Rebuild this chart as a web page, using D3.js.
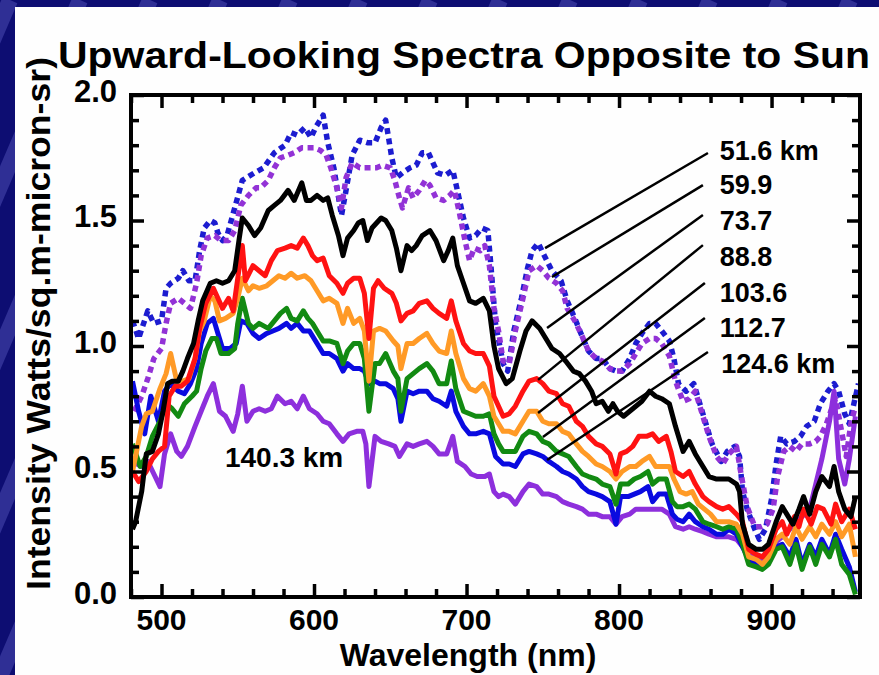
<!DOCTYPE html>
<html>
<head>
<meta charset="utf-8">
<script src="https://cdn.jsdelivr.net/npm/d3@7"></script>
<style>
  html, body { margin: 0; padding: 0; background: #0d0d72; }
  svg { display: block; }
  text { font-family: "Liberation Sans", Arial, Helvetica, sans-serif; font-weight: bold; fill: #000; }
</style>
</head>
<body>
<div id="chart"></div>
<script>
// Canvas size
const width = 879, height = 675;

// Axis ticks
const xMajor = [500, 600, 700, 800, 900];
const yMajor = [0, 0.5, 1.0, 1.5, 2.0];

// Spectra, [wavelength nm, intensity]
const s516 = [[481,1.10],[485,1.03],[491,1.14],[495,1.09],[500,1.10],[503,1.23],[506,1.25],[511,1.27],[514,1.30],[518,1.26],[522,1.26],[525,1.38],[528,1.47],[532,1.50],[535,1.49],[537,1.45],[540,1.42],[543,1.44],[548,1.55],[553,1.66],[561,1.69],[567,1.71],[574,1.77],[581,1.80],[585,1.85],[589,1.84],[594,1.87],[598,1.83],[601,1.87],[606,1.92],[609,1.81],[613,1.71],[618,1.52],[621,1.62],[625,1.76],[630,1.82],[635,1.81],[640,1.81],[644,1.87],[647,1.90],[651,1.75],[654,1.67],[658,1.69],[663,1.71],[667,1.72],[671,1.77],[675,1.77],[678,1.73],[681,1.69],[686,1.68],[691,1.70],[694,1.62],[698,1.51],[702,1.43],[706,1.44],[710,1.47],[714,1.46],[716,1.32],[719,1.09],[724,0.93],[727,0.90],[731,1.06],[736,1.19],[740,1.31],[743,1.38],[747,1.41],[751,1.36],[756,1.30],[762,1.26],[766,1.18],[771,1.11],[775,1.05],[780,0.98],[785,0.95],[789,0.95],[794,0.91],[798,0.90],[802,0.90],[807,0.95],[811,1.01],[815,1.05],[820,1.09],[824,1.09],[828,1.06],[833,1.02],[836,0.95],[839,0.85],[844,0.82],[849,0.85],[853,0.77],[857,0.69],[861,0.61],[867,0.54],[871,0.58],[876,0.60],[879,0.56],[881,0.42],[884,0.35],[889,0.27],[892,0.23],[896,0.27],[900,0.39],[903,0.53],[906,0.64],[910,0.61],[915,0.62],[919,0.64],[923,0.68],[928,0.70],[932,0.77],[937,0.82],[941,0.85],[944,0.82],[948,0.73],[951,0.69],[954,0.77],[957,0.85]];

const s599 = [[482,0.74],[487,0.80],[491,0.87],[495,0.95],[500,0.99],[503,1.09],[506,1.17],[511,1.19],[515,1.17],[519,1.15],[523,1.25],[526,1.36],[530,1.43],[535,1.44],[539,1.42],[544,1.42],[548,1.46],[552,1.56],[557,1.60],[562,1.63],[565,1.63],[570,1.66],[574,1.71],[578,1.75],[583,1.76],[587,1.77],[592,1.79],[596,1.79],[600,1.79],[604,1.78],[608,1.76],[611,1.71],[615,1.63],[618,1.55],[621,1.67],[625,1.73],[630,1.71],[635,1.71],[641,1.71],[645,1.72],[650,1.71],[653,1.66],[656,1.59],[658,1.55],[662,1.63],[665,1.59],[669,1.62],[673,1.66],[676,1.64],[680,1.59],[685,1.58],[689,1.60],[692,1.62],[695,1.54],[699,1.42],[702,1.34],[705,1.39],[709,1.38],[712,1.40],[715,1.32],[718,1.15],[721,1.06],[724,0.94],[728,0.93],[732,1.06],[737,1.19],[741,1.30],[746,1.32],[750,1.30],[754,1.27],[759,1.25],[763,1.22],[766,1.15],[771,1.10],[775,1.05],[780,0.98],[785,0.95],[789,0.94],[794,0.91],[798,0.90],[802,0.90],[807,0.93],[811,0.97],[815,1.01],[820,1.03],[824,1.03],[828,1.01],[833,0.96],[837,0.86],[842,0.78],[846,0.79],[850,0.82],[855,0.72],[859,0.64],[864,0.56],[868,0.53],[872,0.57],[877,0.60],[880,0.49],[884,0.36],[889,0.28],[893,0.28],[897,0.29],[901,0.35],[904,0.48],[908,0.58],[912,0.60],[916,0.58],[920,0.61],[925,0.61],[929,0.62],[932,0.64],[936,0.69],[940,0.76],[942,0.79],[945,0.69],[949,0.56],[952,0.69],[955,0.76]];

const s737 = [[481,0.27],[483,0.30],[487,0.42],[490,0.57],[494,0.58],[498,0.65],[501,0.74],[504,0.85],[507,0.86],[511,0.86],[514,0.90],[517,0.95],[521,1.01],[524,1.10],[527,1.18],[532,1.25],[536,1.26],[540,1.25],[544,1.26],[548,1.30],[551,1.43],[553,1.51],[557,1.48],[561,1.44],[565,1.47],[570,1.54],[574,1.56],[578,1.58],[583,1.62],[587,1.58],[592,1.65],[595,1.58],[598,1.58],[602,1.60],[606,1.58],[609,1.59],[612,1.52],[616,1.44],[619,1.36],[622,1.43],[626,1.46],[629,1.49],[632,1.50],[635,1.42],[638,1.47],[641,1.49],[644,1.51],[647,1.50],[651,1.46],[654,1.39],[657,1.30],[661,1.40],[664,1.38],[667,1.40],[671,1.44],[676,1.46],[680,1.42],[685,1.34],[688,1.38],[691,1.43],[694,1.32],[698,1.25],[702,1.18],[706,1.17],[711,1.19],[715,1.14],[718,1.00],[721,0.91],[726,0.85],[730,0.87],[735,0.98],[739,1.06],[743,1.10],[748,1.07],[752,1.03],[756,0.99],[761,0.97],[765,0.94],[770,0.90],[774,0.89],[778,0.86],[782,0.82],[785,0.77],[789,0.78],[793,0.74],[796,0.77],[799,0.74],[803,0.72],[807,0.74],[811,0.76],[815,0.78],[820,0.82],[824,0.80],[828,0.79],[833,0.77],[837,0.68],[842,0.58],[846,0.62],[850,0.57],[855,0.52],[859,0.48],[864,0.47],[868,0.47],[872,0.47],[877,0.45],[879,0.42],[881,0.29],[885,0.21],[890,0.19],[894,0.19],[898,0.21],[903,0.30],[907,0.36],[910,0.33],[914,0.29],[918,0.35],[921,0.40],[925,0.33],[929,0.42],[933,0.48],[938,0.44],[941,0.52],[944,0.42],[948,0.35],[952,0.32],[955,0.40]];

const s888 = [[481,0.50],[485,0.46],[490,0.50],[494,0.55],[498,0.58],[502,0.60],[505,0.80],[509,0.84],[513,0.84],[517,0.86],[522,0.95],[525,1.07],[529,1.17],[534,1.23],[537,1.19],[540,1.15],[544,1.19],[547,1.14],[550,1.27],[553,1.40],[555,1.26],[560,1.32],[564,1.30],[568,1.28],[572,1.34],[576,1.38],[581,1.39],[585,1.40],[589,1.39],[593,1.43],[596,1.40],[599,1.36],[602,1.34],[606,1.35],[610,1.28],[615,1.25],[619,1.21],[622,1.25],[626,1.27],[630,1.27],[633,1.21],[636,1.03],[639,1.23],[642,1.26],[646,1.23],[651,1.21],[654,1.17],[657,1.10],[661,1.13],[665,1.14],[669,1.17],[674,1.18],[678,1.15],[682,1.13],[687,1.11],[690,1.18],[693,1.10],[698,1.01],[702,0.98],[706,0.97],[711,0.97],[715,0.92],[718,0.80],[721,0.76],[724,0.72],[728,0.73],[732,0.76],[737,0.82],[741,0.86],[746,0.87],[750,0.85],[754,0.82],[759,0.81],[763,0.77],[767,0.76],[772,0.70],[776,0.68],[780,0.64],[785,0.61],[789,0.60],[794,0.57],[798,0.49],[801,0.57],[805,0.58],[809,0.60],[813,0.64],[818,0.64],[822,0.65],[826,0.62],[831,0.64],[834,0.58],[837,0.50],[842,0.48],[846,0.50],[850,0.45],[855,0.40],[859,0.38],[864,0.36],[868,0.35],[872,0.36],[877,0.33],[881,0.30],[885,0.19],[890,0.17],[894,0.16],[898,0.19],[903,0.27],[907,0.30],[910,0.25],[915,0.32],[918,0.28],[921,0.35],[926,0.29],[930,0.36],[934,0.35],[939,0.29],[942,0.37],[946,0.30],[951,0.35],[955,0.27]];

const s1036 = [[481,0.50],[487,0.68],[490,0.73],[494,0.74],[499,0.83],[503,0.89],[506,0.97],[510,0.86],[514,0.86],[518,0.87],[522,0.95],[525,1.06],[528,1.10],[532,1.20],[535,1.18],[538,1.10],[542,1.11],[547,1.13],[550,1.19],[553,1.27],[557,1.22],[560,1.24],[564,1.23],[569,1.24],[573,1.26],[577,1.28],[581,1.27],[585,1.29],[589,1.27],[594,1.28],[598,1.26],[601,1.23],[606,1.18],[610,1.19],[615,1.17],[619,1.09],[622,1.15],[626,1.09],[630,1.11],[633,1.06],[636,0.86],[639,1.06],[643,1.07],[647,1.06],[652,1.02],[655,1.00],[657,0.91],[661,1.01],[665,1.01],[669,1.03],[674,1.05],[678,1.01],[682,0.98],[687,0.97],[690,1.06],[693,0.97],[698,0.87],[702,0.83],[706,0.82],[711,0.85],[715,0.80],[718,0.72],[721,0.69],[724,0.66],[728,0.66],[732,0.65],[737,0.70],[741,0.74],[746,0.74],[750,0.70],[754,0.69],[759,0.69],[763,0.66],[767,0.65],[772,0.61],[776,0.58],[780,0.56],[785,0.53],[789,0.52],[794,0.50],[798,0.47],[802,0.50],[807,0.52],[811,0.52],[815,0.54],[820,0.56],[824,0.52],[828,0.52],[833,0.52],[836,0.47],[840,0.42],[844,0.41],[848,0.42],[852,0.37],[856,0.35],[860,0.33],[864,0.30],[868,0.30],[872,0.30],[877,0.29],[881,0.25],[885,0.16],[890,0.15],[894,0.13],[898,0.16],[903,0.23],[907,0.25],[912,0.21],[916,0.28],[920,0.23],[925,0.28],[929,0.24],[933,0.29],[938,0.25],[942,0.30],[946,0.24],[951,0.29],[955,0.16]];

const s1127 = [[481,0.61],[486,0.52],[490,0.56],[494,0.64],[499,0.70],[503,0.77],[507,0.75],[511,0.72],[515,0.77],[520,0.80],[523,0.82],[526,0.91],[529,0.98],[533,1.03],[536,1.03],[539,0.97],[544,0.97],[548,0.99],[550,1.09],[553,1.19],[557,1.09],[560,1.07],[564,1.09],[570,1.07],[574,1.10],[578,1.13],[582,1.15],[585,1.11],[589,1.10],[593,1.14],[596,1.11],[599,1.09],[602,1.06],[606,1.02],[610,1.02],[615,1.01],[619,0.93],[622,0.98],[626,1.01],[630,1.01],[633,0.95],[636,0.74],[640,0.93],[643,0.93],[647,0.97],[652,0.90],[655,0.87],[657,0.74],[661,0.87],[665,0.89],[669,0.91],[674,0.93],[678,0.90],[682,0.85],[687,0.85],[690,0.94],[693,0.83],[698,0.74],[702,0.73],[706,0.72],[711,0.72],[715,0.73],[718,0.65],[721,0.61],[724,0.58],[728,0.58],[732,0.58],[737,0.64],[741,0.66],[746,0.65],[750,0.62],[754,0.61],[759,0.58],[763,0.57],[767,0.56],[772,0.52],[776,0.49],[780,0.48],[785,0.47],[789,0.45],[794,0.44],[798,0.37],[801,0.45],[806,0.45],[810,0.47],[814,0.48],[819,0.50],[822,0.45],[826,0.47],[831,0.47],[835,0.38],[838,0.36],[842,0.36],[846,0.37],[850,0.35],[855,0.30],[859,0.29],[864,0.28],[868,0.27],[872,0.28],[877,0.27],[881,0.21],[885,0.13],[890,0.12],[894,0.11],[898,0.13],[903,0.19],[907,0.20],[912,0.13],[916,0.21],[920,0.11],[925,0.20],[929,0.13],[933,0.21],[938,0.16],[942,0.23],[946,0.13],[951,0.09],[955,0.01]];

const s1246 = [[481,0.86],[485,0.74],[489,0.65],[493,0.80],[498,0.70],[502,0.82],[506,0.85],[511,0.82],[515,0.81],[519,0.85],[523,0.91],[526,1.01],[530,1.09],[534,1.11],[537,1.05],[540,0.99],[545,0.99],[549,1.01],[552,1.10],[556,1.09],[560,1.05],[564,1.03],[569,1.05],[573,1.06],[577,1.07],[582,1.09],[585,1.07],[589,1.09],[593,1.06],[597,1.06],[602,1.01],[606,0.97],[610,0.97],[615,0.95],[619,0.90],[622,0.93],[626,0.91],[630,0.91],[633,0.90],[636,0.85],[640,0.86],[643,0.85],[647,0.85],[652,0.83],[655,0.79],[657,0.70],[661,0.82],[665,0.81],[669,0.82],[674,0.82],[678,0.79],[682,0.78],[687,0.76],[690,0.82],[693,0.74],[698,0.68],[702,0.65],[706,0.65],[711,0.66],[715,0.65],[719,0.56],[724,0.53],[728,0.53],[732,0.52],[737,0.57],[741,0.58],[746,0.57],[750,0.56],[754,0.54],[759,0.52],[763,0.50],[767,0.49],[772,0.47],[776,0.44],[780,0.42],[785,0.41],[789,0.40],[794,0.38],[798,0.29],[801,0.40],[806,0.40],[810,0.41],[814,0.42],[819,0.44],[822,0.38],[826,0.41],[831,0.41],[835,0.33],[838,0.31],[842,0.30],[846,0.33],[850,0.30],[855,0.28],[859,0.27],[864,0.25],[868,0.25],[872,0.27],[877,0.25],[881,0.20],[885,0.15],[890,0.13],[894,0.12],[898,0.15],[903,0.20],[907,0.21],[912,0.16],[916,0.23],[920,0.13],[925,0.21],[929,0.16],[933,0.23],[938,0.17],[942,0.25],[946,0.19],[951,0.12],[955,0.02]];

const s1403 = [[481,0.54],[487,0.52],[491,0.54],[495,0.49],[499,0.44],[502,0.57],[506,0.65],[510,0.58],[513,0.56],[517,0.60],[522,0.68],[526,0.74],[530,0.80],[534,0.85],[538,0.74],[542,0.72],[547,0.66],[550,0.73],[553,0.84],[556,0.70],[560,0.74],[564,0.75],[568,0.74],[572,0.75],[576,0.80],[581,0.77],[585,0.78],[589,0.75],[593,0.80],[597,0.75],[602,0.73],[606,0.70],[610,0.69],[615,0.65],[619,0.62],[623,0.65],[628,0.66],[632,0.66],[634,0.61],[636,0.44],[640,0.64],[644,0.62],[649,0.61],[653,0.60],[656,0.56],[661,0.61],[665,0.60],[669,0.61],[674,0.62],[678,0.60],[682,0.57],[687,0.57],[691,0.64],[694,0.54],[699,0.52],[703,0.49],[707,0.48],[712,0.48],[715,0.49],[718,0.42],[721,0.40],[724,0.41],[728,0.40],[732,0.37],[737,0.42],[741,0.45],[746,0.44],[750,0.41],[754,0.41],[759,0.40],[763,0.38],[767,0.37],[772,0.36],[776,0.35],[780,0.33],[785,0.33],[789,0.32],[794,0.32],[798,0.29],[802,0.32],[807,0.33],[811,0.35],[815,0.35],[820,0.35],[824,0.35],[828,0.35],[833,0.33],[837,0.28],[842,0.27],[846,0.28],[850,0.27],[855,0.26],[859,0.25],[864,0.24],[868,0.24],[872,0.24],[877,0.23],[881,0.20],[885,0.17],[890,0.16],[894,0.15],[898,0.17],[903,0.22],[907,0.24],[912,0.27],[916,0.30],[920,0.32],[925,0.35],[929,0.45],[933,0.55],[938,0.70],[941,0.82],[944,0.55],[948,0.45],[951,0.55],[955,0.72]];

// Annotation: label text, label baseline [nm, intensity], leader line from label to curve
const labelText = ["51.6 km", "59.9", "73.7", "88.8", "103.6", "112.7", "124.6 km"];
const labelPos  = [[866,1.74],[866,1.606],[866,1.462],[866,1.319],[866,1.175],[866,1.036],[867,0.892]];
const leaderFrom = [[858.3,1.769],[855,1.641],[855,1.522],[855,1.402],[856.3,1.251],[856.3,1.112],[858.3,0.976]];
const leaderTo   = [[751.5,1.390],[756,1.275],[752.8,1.072],[746.9,0.865],[746.9,0.733],[750.1,0.637],[752.8,0.546]];
const lowLabel = { text: "140.3 km", pos: [541.6, 0.518] };

// Draw styles, in drawing order
const series = [
  { data: s516,  color: "#1c1cd0", dashed: true },
  { data: s599,  color: "#9232d6", dashed: true },
  { data: s1403, color: "#8d2fdc", dashed: false },
  { data: s1246, color: "#0a0ae0", dashed: false },
  { data: s1127, color: "#128a12", dashed: false },
  { data: s1036, color: "#ff9a26", dashed: false },
  { data: s888,  color: "#ff1212", dashed: false },
  { data: s737,  color: "#000000", dashed: false }
];

const svg = d3.select("#chart").append("svg")
  .attr("width", width)
  .attr("height", height);

// Slide background with light diagonal stripes
svg.append("rect").attr("width", width).attr("height", height).attr("fill", "#0d0d72");
const stripes = svg.append("g").attr("opacity", 0.35);
d3.range(-200, 900, 70).forEach(s => {
  stripes.append("line")
    .attr("x1", s).attr("y1", 0)
    .attr("x2", s - 300).attr("y2", 700)
    .attr("stroke", "#6f6fd8")
    .attr("stroke-width", 16);
});
svg.append("rect")
  .attr("x", 15).attr("y", 7)
  .attr("width", width - 15).attr("height", height - 7)
  .attr("fill", "#fefefe");

// Scales
const x = d3.scaleLinear().domain([480, 958]).range([131, 860]);
const y = d3.scaleLinear().domain([0, 2]).range([597, 95]);

svg.append("clipPath").attr("id", "plot-clip")
  .append("rect")
  .attr("x", x.range()[0]).attr("y", y.range()[1])
  .attr("width", x.range()[1] - x.range()[0])
  .attr("height", y.range()[0] - y.range()[1]);

// Curves
const line = d3.line().x(d => x(d[0])).y(d => y(d[1]));
const curves = svg.append("g").attr("clip-path", "url(#plot-clip)");
series.forEach(s => {
  curves.append("path")
    .datum(s.data)
    .attr("d", line)
    .attr("fill", "none")
    .attr("stroke", s.color)
    .attr("stroke-width", s.dashed ? 5.5 : 5)
    .attr("stroke-linejoin", "round")
    .attr("stroke-dasharray", s.dashed ? "6,4.5" : null);
});

// Frame and inward ticks
function tickAxis(axis, transform) {
  const g = svg.append("g").attr("transform", transform).call(axis);
  g.select(".domain").remove();
  g.selectAll("line").attr("stroke", "#000").attr("stroke-width", 3.5);
  g.selectAll("text").remove();
}
const xMinor = d3.range(480, 958, 20).filter(v => !xMajor.includes(v));
const yMinor = d3.range(1, 20).map(v => v / 10).filter(v => !yMajor.some(m => Math.abs(m - v) < 1e-6));
[[d3.axisBottom, y.range()[0]], [d3.axisTop, y.range()[1]]].forEach(([ax, pos]) => {
  tickAxis(ax(x).tickValues(xMajor).tickSize(-13), `translate(0,${pos})`);
  tickAxis(ax(x).tickValues(xMinor).tickSize(-8), `translate(0,${pos})`);
});
[[d3.axisLeft, x.range()[0]], [d3.axisRight, x.range()[1]]].forEach(([ax, pos]) => {
  tickAxis(ax(y).tickValues(yMajor).tickSize(-13), `translate(${pos},0)`);
  tickAxis(ax(y).tickValues(yMinor).tickSize(-8), `translate(${pos},0)`);
});
svg.append("rect")
  .attr("x", x.range()[0]).attr("y", y.range()[1])
  .attr("width", x.range()[1] - x.range()[0])
  .attr("height", y.range()[0] - y.range()[1])
  .attr("fill", "none")
  .attr("stroke", "#000")
  .attr("stroke-width", 4);

// Tick labels
svg.append("g").selectAll("text")
  .data(xMajor).join("text")
  .attr("x", d => x(d))
  .attr("y", 630)
  .attr("text-anchor", "middle")
  .style("font-size", "30px")
  .text(d => d);
svg.append("g").selectAll("text")
  .data(yMajor).join("text")
  .attr("x", 117)
  .attr("y", d => y(d) - 4)
  .attr("dy", "0.35em")
  .attr("text-anchor", "end")
  .style("font-size", "31px")
  .text(d => d.toFixed(1));

// Titles
svg.append("text")
  .attr("x", 58).attr("y", 68)
  .attr("textLength", 812)
  .attr("lengthAdjust", "spacingAndGlyphs")
  .style("font-size", "37px")
  .text("Upward-Looking Spectra Opposite to Sun");
svg.append("text")
  .attr("x", 468).attr("y", 666)
  .attr("text-anchor", "middle")
  .style("font-size", "32px")
  .text("Wavelength (nm)");
svg.append("text")
  .attr("transform", "translate(50,590) rotate(-90)")
  .attr("textLength", 533)
  .attr("lengthAdjust", "spacingAndGlyphs")
  .style("font-size", "34px")
  .text("Intensity Watts/sq.m-micron-sr)");

// Altitude labels with leader lines
const notes = svg.append("g");
leaderFrom.forEach((p, i) => {
  notes.append("line")
    .attr("x1", x(p[0])).attr("y1", y(p[1]))
    .attr("x2", x(leaderTo[i][0])).attr("y2", y(leaderTo[i][1]))
    .attr("stroke", "#000")
    .attr("stroke-width", 2.5);
});
notes.selectAll("text.alt")
  .data(labelText).join("text")
  .attr("class", "alt")
  .attr("x", (d, i) => x(labelPos[i][0]))
  .attr("y", (d, i) => y(labelPos[i][1]))
  .style("font-size", "27px")
  .text(d => d);
notes.append("text")
  .attr("x", x(lowLabel.pos[0]))
  .attr("y", y(lowLabel.pos[1]))
  .style("font-size", "28px")
  .text(lowLabel.text);
</script>
</body>
</html>
